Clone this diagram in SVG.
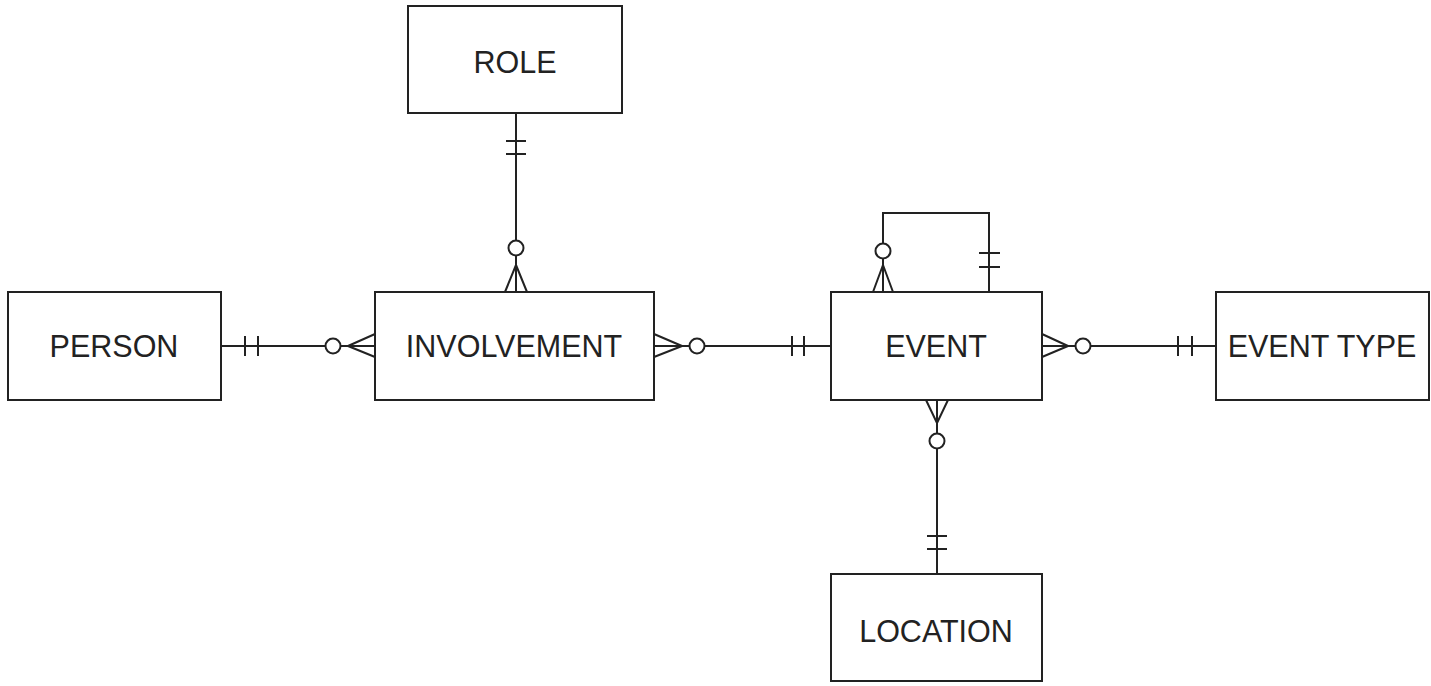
<svg xmlns="http://www.w3.org/2000/svg" width="1431" height="686" viewBox="0 0 1431 686">
<style>
.box{fill:#fff;stroke:#222;stroke-width:2}
.lbl{font-family:"Liberation Sans",Arial,sans-serif;font-size:30.5px;fill:#222;text-anchor:middle}
.ln{fill:none;stroke:#222;stroke-width:2}
.c{fill:#fff;stroke:#222;stroke-width:2}
</style>
<rect width="1431" height="686" fill="#fff"/>
<g id="connectors">
  <!-- PERSON - INVOLVEMENT -->
  <path class="ln" d="M221 346 H375 M245 336 V356 M258 336 V356 M348 346 L375 334 M348 346 L375 357"/>
  <circle class="c" cx="333" cy="346" r="7.5"/>
  <!-- INVOLVEMENT - EVENT -->
  <path class="ln" d="M654 346 H831 M792 336 V356 M804 336 V356 M682 346 L654 334 M682 346 L654 357"/>
  <circle class="c" cx="697" cy="346" r="7.5"/>
  <!-- EVENT - EVENT TYPE -->
  <path class="ln" d="M1042 346 H1216 M1178 336 V356 M1192 336 V356 M1068 346 L1042 334 M1068 346 L1042 357"/>
  <circle class="c" cx="1083" cy="346" r="7.5"/>
  <!-- ROLE - INVOLVEMENT -->
  <path class="ln" d="M516 113 V292 M506 141 H526 M506 154 H526 M516 265 L505 292 M516 265 L527 292"/>
  <circle class="c" cx="516" cy="248" r="7.5"/>
  <!-- EVENT self loop -->
  <path class="ln" d="M883 292 V213 H989 V292 M979 253 H1000 M979 267 H1000 M883 265 L873 292 M883 265 L893 292"/>
  <circle class="c" cx="883" cy="251" r="7.5"/>
  <!-- EVENT - LOCATION -->
  <path class="ln" d="M937 400 V574 M927 536 H947 M927 549 H947 M937 423 L926 400 M937 423 L948 400"/>
  <circle class="c" cx="937" cy="441" r="7.5"/>
</g>
<g id="role"><rect class="box" x="408" y="6" width="214" height="107"/><text class="lbl" x="515" y="73">ROLE</text></g>
<g id="person"><rect class="box" x="8" y="292" width="213" height="108"/><text class="lbl" x="114" y="357">PERSON</text></g>
<g id="involvement"><rect class="box" x="375" y="292" width="279" height="108"/><text class="lbl" x="514" y="357">INVOLVEMENT</text></g>
<g id="event"><rect class="box" x="831" y="292" width="211" height="108"/><text class="lbl" x="936" y="357">EVENT</text></g>
<g id="eventtype"><rect class="box" x="1216" y="292" width="213" height="108"/><text class="lbl" x="1322" y="357">EVENT TYPE</text></g>
<g id="location"><rect class="box" x="831" y="574" width="211" height="107"/><text class="lbl" x="936" y="642">LOCATION</text></g>
</svg>
